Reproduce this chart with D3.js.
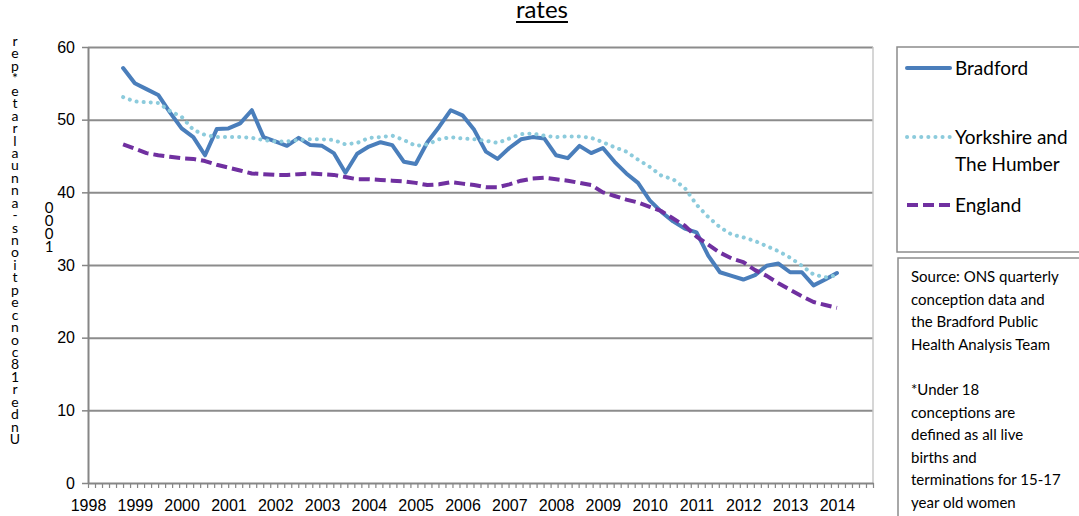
<!DOCTYPE html>
<html lang="en">
<head>
    <meta charset="UTF-8">
    <title>Under 18 conception rates</title>
    <style>
        body {
            margin: 0;
            background: #fff;
        }

        svg {
            font-family: Lato, "Open Sans", sans-serif;
        }

        .axis path, .axis line {
            stroke: #868686;
        }

        .axis text {
            font-size: 16px;
            fill: #000;
        }
    </style>
    <script src="https://cdn.jsdelivr.net/npm/d3@7/dist/d3.min.js"></script>
</head>
<body>
<svg class="chart" width="1079" height="516"></svg>
<script>
    // quarterly rolling rates, 1998 Q4 .. 2014 Q1
    const quarters = [
        '1998 Q4',
        '1999 Q1', '1999 Q2', '1999 Q3', '1999 Q4',
        '2000 Q1', '2000 Q2', '2000 Q3', '2000 Q4',
        '2001 Q1', '2001 Q2', '2001 Q3', '2001 Q4',
        '2002 Q1', '2002 Q2', '2002 Q3', '2002 Q4',
        '2003 Q1', '2003 Q2', '2003 Q3', '2003 Q4',
        '2004 Q1', '2004 Q2', '2004 Q3', '2004 Q4',
        '2005 Q1', '2005 Q2', '2005 Q3', '2005 Q4',
        '2006 Q1', '2006 Q2', '2006 Q3', '2006 Q4',
        '2007 Q1', '2007 Q2', '2007 Q3', '2007 Q4',
        '2008 Q1', '2008 Q2', '2008 Q3', '2008 Q4',
        '2009 Q1', '2009 Q2', '2009 Q3', '2009 Q4',
        '2010 Q1', '2010 Q2', '2010 Q3', '2010 Q4',
        '2011 Q1', '2011 Q2', '2011 Q3', '2011 Q4',
        '2012 Q1', '2012 Q2', '2012 Q3', '2012 Q4',
        '2013 Q1', '2013 Q2', '2013 Q3', '2013 Q4',
        '2014 Q1'
    ];

    const bradford = [
        57.1, 55.0, 54.2, 53.4, 51.0, 48.8, 47.6, 45.1, 48.7, 48.8,
        49.5, 51.3, 47.6, 47.0, 46.4, 47.5, 46.5, 46.4, 45.4, 42.7,
        45.3, 46.3, 46.9, 46.5, 44.2, 43.9, 46.9, 49.0, 51.3, 50.6,
        48.6, 45.6, 44.6, 46.1, 47.3, 47.6, 47.4, 45.1, 44.7, 46.4,
        45.4, 46.1, 44.2, 42.6, 41.3, 38.9, 37.3, 36.0, 35.0, 34.5,
        31.3, 29.0, 28.5, 28.0, 28.6, 29.9, 30.2, 29.0, 29.0, 27.2,
        28.0, 28.9
    ];

    const yorkshire = [
        53.1, 52.5, 52.4, 52.3, 51.2, 50.4, 48.6, 47.9, 47.6, 47.6,
        47.6, 47.5, 47.2, 47.0, 47.0, 47.2, 47.3, 47.3, 47.2, 46.6,
        46.8, 47.5, 47.6, 47.8, 47.2, 46.4, 46.6, 47.3, 47.6, 47.4,
        47.3, 47.1, 46.8, 47.4, 48.0, 48.1, 47.8, 47.6, 47.7, 47.7,
        47.5, 46.9, 46.2, 45.6, 44.5, 43.5, 42.3, 41.8, 40.6, 38.3,
        36.6, 35.2, 34.2, 33.8, 33.3, 32.6, 31.9, 31.0, 29.9, 28.7,
        28.3, 28.6
    ];

    const england = [
        46.6, 46.0, 45.4, 45.1, 44.9, 44.7, 44.6, 44.3, 43.8, 43.4,
        43.0, 42.6, 42.5, 42.4, 42.4, 42.5, 42.6, 42.5, 42.4, 42.1,
        41.8, 41.8, 41.7, 41.6, 41.5, 41.3, 41.0, 41.1, 41.4, 41.2,
        41.0, 40.7, 40.7, 41.1, 41.6, 41.9, 42.0, 41.8, 41.6, 41.3,
        41.0, 40.0, 39.5, 39.0, 38.6, 38.0, 37.4, 36.4, 35.4, 33.9,
        32.8, 31.7, 30.9, 30.4, 29.3, 28.5, 27.5, 26.6, 25.7, 24.9,
        24.5, 24.1
    ];

    const seriesNames = ['Bradford', 'Yorkshire and|The Humber', 'England'];
    const yearLabels = [1998, 1999, 2000, 2001, 2002, 2003, 2004, 2005, 2006,
        2007, 2008, 2009, 2010, 2011, 2012, 2013, 2014];
    const yTicks = [0, 10, 20, 30, 40, 50, 60];

    const titleText = 'rates';
    const yTitle = 'Under 18 conceptions - annual rate* per';
    const yTitle2 = '1000';
    const noteLines = [
        'Source: ONS quarterly', 'conception data and', 'the Bradford Public',
        'Health Analysis Team', '', '*Under 18', 'conceptions are',
        'defined as all live', 'births and', 'terminations for 15-17',
        'year old women'
    ];

    const plot = {left: 88, right: 873, top: 47, bottom: 483};

    const svg = d3.select('.chart');

    // quarter label -> decimal year
    const toYear = q => +q.slice(0, 4) + (+q.slice(6) - 1) / 4;

    const x = d3.scaleLinear().domain([1998, 2014.77]).range([plot.left, plot.right]);
    const y = d3.scaleLinear().domain([0, 60]).range([plot.bottom, plot.top]);

    // gridlines
    svg.append('g')
        .attr('transform', 'translate(' + plot.left + ',0)')
        .call(d3.axisLeft(y).tickValues(yTicks.slice(1)).tickSize(-(plot.right - plot.left)).tickFormat(''))
        .call(g => g.select('.domain').remove())
        .selectAll('line')
        .attr('stroke', '#8c8c8c')
        .attr('stroke-width', 2);

    // plot area right edge
    svg.append('line')
        .attr('x1', plot.right).attr('x2', plot.right)
        .attr('y1', plot.top).attr('y2', plot.bottom)
        .attr('stroke', '#c8c8c8')
        .attr('stroke-width', 1.5);

    // y axis
    let yAxis = svg.append('g')
        .attr('class', 'axis')
        .attr('transform', 'translate(' + plot.left + ',0)')
        .call(d3.axisLeft(y).tickValues(yTicks).tickSize(6).tickPadding(7).tickSizeOuter(0));
    yAxis.select('.domain').attr('stroke-width', 2);
    yAxis.selectAll('line').attr('stroke-width', 1.5);

    // x axis: minor ticks, then year labels
    const minorTicks = d3.range(113).map(i => 1998 + i * (2014.77 - 1998) / 112);
    let xAxis = svg.append('g')
        .attr('class', 'axis')
        .attr('transform', 'translate(0,' + plot.bottom + ')')
        .call(d3.axisBottom(x).tickValues(minorTicks).tickSize(5).tickSizeOuter(0).tickFormat(''));
    xAxis.select('.domain').attr('stroke-width', 2);
    xAxis.selectAll('line').attr('stroke-width', 1.2);

    svg.append('g')
        .attr('class', 'axis')
        .attr('transform', 'translate(0,' + plot.bottom + ')')
        .call(d3.axisBottom(x).tickValues(yearLabels).tickSize(0).tickPadding(17).tickFormat(d3.format('d')))
        .call(g => g.select('.domain').remove());

    // lines
    const line = d3.line()
        .x((d, i) => x(toYear(quarters[i])))
        .y(d => y(d));

    const styles = [
        {color: '#4a7ebb', width: 4, dash: null, cap: 'round'},
        {color: '#8ccbdc', width: 4, dash: '0.1,7', cap: 'round'},
        {color: '#7030a0', width: 4, dash: '11,5', cap: 'butt'}
    ];

    [bradford, yorkshire, england].forEach((s, k) => {
        svg.append('path')
            .datum(s)
            .attr('d', line)
            .attr('fill', 'none')
            .attr('stroke', styles[k].color)
            .attr('stroke-width', styles[k].width)
            .attr('stroke-dasharray', styles[k].dash)
            .attr('stroke-linecap', styles[k].cap)
            .attr('stroke-linejoin', 'round');
    });

    // title (only the last line fits in the frame)
    let title = svg.append('text')
        .attr('x', 542)
        .attr('y', 18)
        .attr('text-anchor', 'middle')
        .attr('font-size', 24)
        .text(titleText);
    let tw = title.node().getComputedTextLength();
    svg.append('line')
        .attr('x1', 542 - tw / 2).attr('x2', 542 + tw / 2)
        .attr('y1', 22).attr('y2', 22)
        .attr('stroke', '#000')
        .attr('stroke-width', 2);

    // y title: glyphs stacked bottom-up, one text element each column
    const glyphs = yTitle.split('');
    let slot = 0;
    const slots = glyphs.map(c => c === ' ' ? slot : slot++);
    const step = (440 - 42) / (slot - 1);
    svg.append('text')
        .attr('font-size', 14)
        .attr('text-anchor', 'middle')
        .selectAll('tspan')
        .data(glyphs)
        .enter().append('tspan')
        .attr('x', 15)
        .attr('y', (d, i) => 444 - slots[i] * step)
        .text(d => d);

    svg.append('text')
        .attr('font-size', 15)
        .attr('text-anchor', 'middle')
        .selectAll('tspan')
        .data(yTitle2.split(''))
        .enter().append('tspan')
        .attr('x', 49)
        .attr('y', (d, i) => 252 - i * 13)
        .text(d => d);

    // legend box
    svg.append('rect')
        .attr('x', 897).attr('y', 47)
        .attr('width', 200).attr('height', 205)
        .attr('fill', 'none')
        .attr('stroke', '#8c8c8c')
        .attr('stroke-width', 1.5);

    const legendY = [68, 137, 205];
    seriesNames.forEach((name, k) => {
        svg.append('line')
            .attr('x1', 907).attr('x2', 950)
            .attr('y1', legendY[k]).attr('y2', legendY[k])
            .attr('stroke', styles[k].color)
            .attr('stroke-width', styles[k].width)
            .attr('stroke-dasharray', styles[k].dash)
            .attr('stroke-linecap', styles[k].cap);
        name.split('|').forEach((part, j) => {
            svg.append('text')
                .attr('x', 955)
                .attr('y', legendY[k] + 7 + j * 27)
                .attr('font-size', 19)
                .text(part);
        });
    });

    // source note box
    svg.append('rect')
        .attr('x', 898).attr('y', 258)
        .attr('width', 200).attr('height', 280)
        .attr('fill', 'none')
        .attr('stroke', '#8c8c8c')
        .attr('stroke-width', 1.5);

    svg.append('g')
        .selectAll('text')
        .data(noteLines)
        .enter().append('text')
        .attr('x', 911)
        .attr('y', (d, i) => 282 + i * 22.6)
        .attr('font-size', 15)
        .text(d => d);
</script>
</body>
</html>
